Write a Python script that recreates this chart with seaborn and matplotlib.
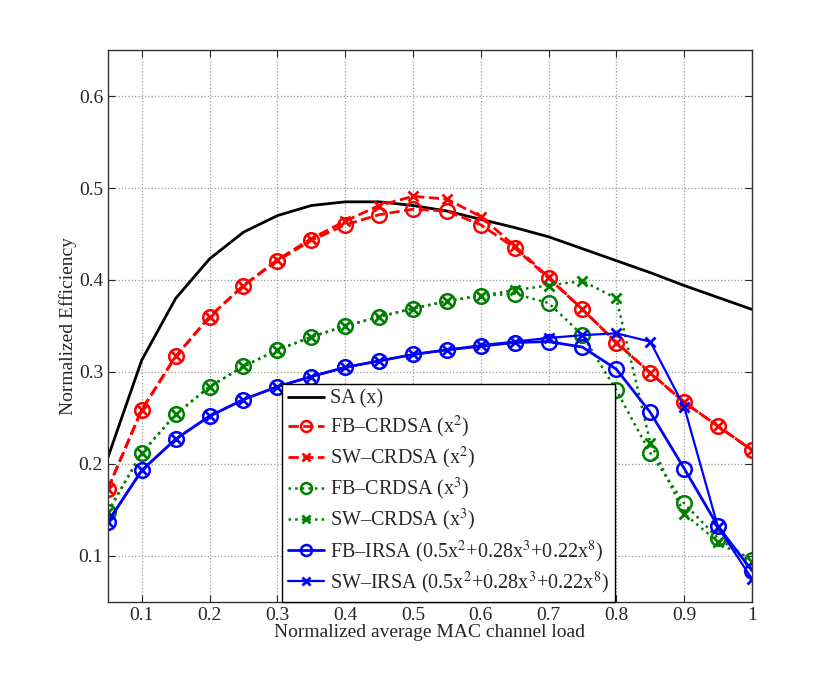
import numpy as np
import pandas as pd
import matplotlib
matplotlib.use("Agg")
import matplotlib.pyplot as plt
import seaborn as sns

load = [0.05, 0.1, 0.15, 0.2, 0.25, 0.3, 0.35, 0.4, 0.45, 0.5,
        0.55, 0.6, 0.65, 0.7, 0.75, 0.8, 0.85, 0.9, 0.95, 1.0]

sa = [0.207, 0.313, 0.380, 0.423, 0.452, 0.470, 0.481, 0.485, 0.485, 0.481,
      0.475, 0.466, 0.457, 0.447, 0.434, 0.421, 0.408, 0.394, 0.381, 0.368]
fb_crdsa2 = [0.173, 0.259, 0.317, 0.360, 0.394, 0.421, 0.443, 0.460, 0.471, 0.477,
             0.475, 0.460, 0.435, 0.402, 0.368, 0.332, 0.299, 0.267, 0.241, 0.215]
sw_crdsa2 = [0.173, 0.259, 0.317, 0.360, 0.394, 0.422, 0.445, 0.464, 0.481, 0.491,
             0.488, 0.469, 0.437, 0.403, 0.368, 0.332, 0.299, 0.267, 0.241, 0.215]
fb_crdsa3 = [0.148, 0.212, 0.254, 0.284, 0.306, 0.324, 0.338, 0.350, 0.360, 0.369,
             0.377, 0.383, 0.385, 0.375, 0.340, 0.280, 0.212, 0.157, 0.119, 0.095]
sw_crdsa3 = [0.148, 0.212, 0.254, 0.284, 0.306, 0.324, 0.338, 0.350, 0.360, 0.369,
             0.377, 0.383, 0.389, 0.394, 0.399, 0.380, 0.223, 0.146, 0.115, 0.093]
fb_irsa = [0.137, 0.193, 0.227, 0.252, 0.270, 0.284, 0.295, 0.305, 0.312, 0.319,
           0.324, 0.328, 0.332, 0.333, 0.327, 0.303, 0.256, 0.195, 0.132, 0.084]
sw_irsa = [0.137, 0.193, 0.227, 0.252, 0.270, 0.284, 0.295, 0.305, 0.312, 0.319,
           0.324, 0.329, 0.333, 0.337, 0.340, 0.342, 0.333, 0.262, 0.131, 0.075]

poly = r"(0.5x$^2$+0.28x$^3$+0.22x$^8$)"
labels = ["SA (x)",
          "FB\u2013CRDSA (x$^2$)",
          "SW\u2013CRDSA (x$^2$)",
          "FB\u2013CRDSA (x$^3$)",
          "SW\u2013CRDSA (x$^3$)",
          "FB\u2013IRSA " + poly,
          "SW\u2013IRSA " + poly]

sns.set_style("ticks")
plt.rcParams["font.family"] = ["Liberation Serif", "DejaVu Serif"]
plt.rcParams["mathtext.fontset"] = "stix"
plt.rcParams["font.size"] = 14

fig = plt.figure(figsize=(8.30, 6.77), dpi=100)
ax = fig.add_axes([0.130, 0.111, 0.776, 0.815])

# seaborn gives markers a white edge by default, so colour them explicitly
circ = dict(marker="o", markersize=10.5, markerfacecolor="none", markeredgewidth=1.8)
cross = dict(marker="x", markersize=7, markeredgewidth=2.0)
series = [
    (sa, "black", dict(linestyle="-", linewidth=2.0, marker="None")),
    (fb_crdsa2, "red", dict(linestyle="--", linewidth=2.0, **circ)),
    (sw_crdsa2, "red", dict(linestyle="--", linewidth=2.0, **cross)),
    (fb_crdsa3, "green", dict(linestyle=":", linewidth=1.8, **circ)),
    (sw_crdsa3, "green", dict(linestyle=":", linewidth=1.8, **cross)),
    (fb_irsa, "blue", dict(linestyle="-", linewidth=2.0, **circ)),
    (sw_irsa, "blue", dict(linestyle="-", linewidth=1.6, **cross)),
]

for (vals, col, style), lab in zip(series, labels):
    sns.lineplot(x=load, y=vals, ax=ax, label=lab, sort=False, color=col)
    ax.get_lines()[-1].set(color=col, markeredgecolor=col, **style)

ax.set_xlim(0.05, 1.0)
ax.set_ylim(0.05, 0.65)
ax.set_xticks(np.arange(0.1, 1.01, 0.1))
ax.set_xticklabels(["0.1", "0.2", "0.3", "0.4", "0.5", "0.6", "0.7", "0.8", "0.9", "1"])
ax.set_yticks([0.1, 0.2, 0.3, 0.4, 0.5, 0.6])
ax.grid(True, linestyle=":", color="#999999", linewidth=0.9)
ax.tick_params(direction="in", top=True, right=True, length=5, labelsize=14)
for sp in ax.spines.values():
    sp.set_color("#333333")
    sp.set_linewidth(1.0)

ax.set_xlabel("Normalized average MAC channel load", fontsize=14, labelpad=0)
ax.set_ylabel("Normalized Efficiency", fontsize=14, labelpad=1)

handles, labs = ax.get_legend_handles_labels()
leg = ax.legend(handles, labs, loc="lower left", bbox_to_anchor=(0.270, 0.0),
                borderaxespad=0, fancybox=False, framealpha=1, edgecolor="black",
                fontsize=14.5, handlelength=1.8, handletextpad=0.3,
                labelspacing=0.25, borderpad=0.3, markerscale=0.75)
leg.get_frame().set_linewidth(1.0)

fig.savefig("out.png", dpi=100)
